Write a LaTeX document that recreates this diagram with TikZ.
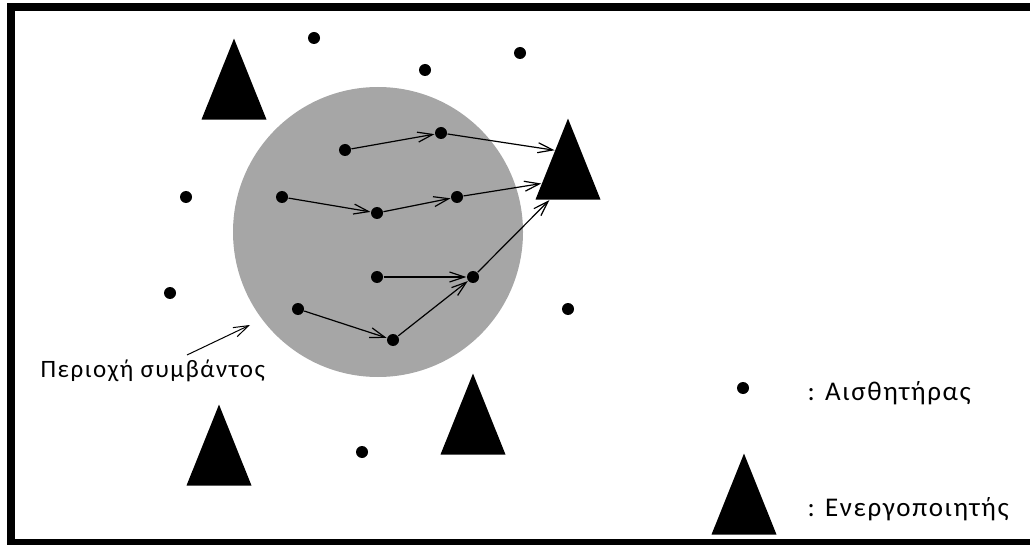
\documentclass[tikz,border=0pt]{standalone}
\usepackage{fontspec}
\setmainfont{Carlito}
\newfontfamily\wideface[LetterSpace=6]{Carlito}
\usetikzlibrary{arrows.meta, positioning, shapes.geometric, calc}
\definecolor{cgrey}{HTML}{A6A6A6}
\tikzset{
  every picture/.style={line width=1.2pt},
  sensor/.style={circle, fill=black, inner sep=0pt, minimum size=12pt},
  actuator/.style={isosceles triangle, isosceles triangle stretches, shape border rotate=90,
    fill=black, inner sep=0pt, minimum width=65pt, minimum height=81pt, anchor=apex},
  link/.style={-{Straight Barb[length=15pt, width=10pt]}, line width=1.2pt},
  txt/.style={font=\wideface\fontsize{25}{29}\selectfont, anchor=base west, inner sep=0pt},
  keytxt/.style={font=\wideface\fontsize{27}{31}\selectfont, anchor=base west, inner sep=0pt},
}

\begin{document}
\begin{tikzpicture}[x=1pt, y=-1pt]
  \useasboundingbox (0,0) rectangle (1030,545);
  \begin{scope}
    \clip (0,0) rectangle (1030,545);
    \draw[line width=8pt] (11,7) rectangle (1036,543);
  \end{scope}
  % event area
  \fill[cgrey] (378,232) circle[radius=145];
  % sensors
  \foreach \n/\x/\y in {o1/314/38, o2/425/70, o3/520/53, o4/186/197, o5/170/293, o6/568/309, o7/362/452,
                        p1/345/150, p2/441/133, p3/282/197, p4/377/213, p5/457/197,
                        p6/377/277, p7/473/277, p8/298/309, p9/393/340}
    \node[sensor] (\n) at (\x,\y) {};
  % actuators
  \foreach \n/\x/\y in {a1/234/37, ev/568/117, a3/219/403, a4/473/372}
    \node[actuator] (\n) at (\x,\y) {};
  % paths to the actuator
  \draw[link] (p1) -- (p2);
  \draw[link] (p2) -- ($(ev.apex)!0.4!(ev.left corner)$);
  \draw[link] (p3) -- (p4);
  \draw[link] (p4) -- (p5);
  \draw[link] (p5) -- ($(ev.apex)!0.8!(ev.left corner)$);
  \draw[link] (p6) -- (p7);
  \draw[link] (p8) -- (p9);
  \draw[link] (p9) -- (p7);
  \draw[link] (p7) -- ($(ev.left corner)!0.22!(ev.right corner)$);
  % label of the area
  \node[txt] (evlabel) at (40,377) {Περιοχή συμβάντος};
  \coordinate (evtail) at (187,355);
  \coordinate (evtip) at (250,325);
  \draw[link, line width=1pt] (evtail) -- (evtip);
  % key
  \node[sensor] (keys) at (743,388) {};
  \node[keytxt] (keystxt) at (807,400) {: Αισθητήρας};
  \node[actuator] (keya) at (744,452) {};
  \node[keytxt] (keyatxt) at (807,516) {: Ενεργοποιητής};
\end{tikzpicture}
\end{document}
